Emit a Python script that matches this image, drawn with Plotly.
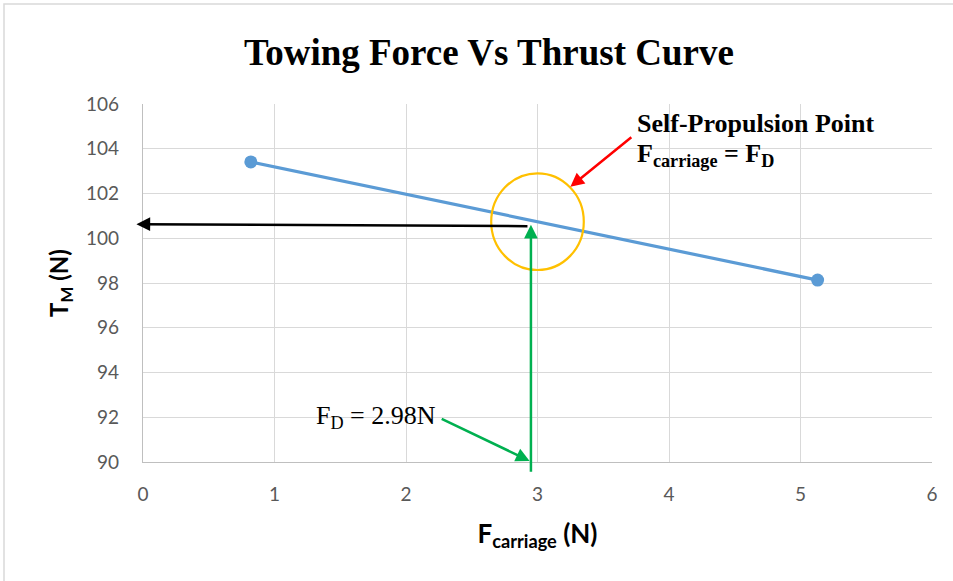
import plotly.graph_objects as go

# ---- data ----
f_carriage = [0.82, 5.13]
thrust_tm = [103.41, 98.13]

x_ticks = [0, 1, 2, 3, 4, 5, 6]
y_ticks = [90, 92, 94, 96, 98, 100, 102, 104, 106]

fd_value = 2.98           # self-propulsion point (label)
fd_arrow_x = 2.95         # drawn position of the vertical arrow
sp_thrust = 100.6         # thrust read at self-propulsion point

circle_center = [3.0, 100.74]
circle_radius = [0.352, 2.16]

serif = "Liberation Serif, Times New Roman, serif"
sans = "Lato, Carlito, Open Sans, sans-serif"

fig = go.Figure()
fig.add_trace(go.Scatter(
    x=f_carriage, y=thrust_tm, mode="lines+markers",
    line=dict(color="#5B9BD5", width=3.2),
    marker=dict(color="#5B9BD5", size=13),
    showlegend=False, cliponaxis=False, hoverinfo="skip",
))


def arrow(x0, y0, x1, y1, color):
    fig.add_annotation(x=x1, y=y1, ax=x0, ay=y0, xref="x", yref="y", axref="x", ayref="y",
                       text="", showarrow=True, arrowhead=2, arrowsize=1.1, arrowwidth=2.5,
                       arrowcolor=color)


fig.update_layout(
    width=953, height=581,
    margin=dict(l=143, r=21, t=104, b=119),
    paper_bgcolor="white", plot_bgcolor="white",
    title=dict(text="<b>Towing Force Vs Thrust Curve</b>",
               font=dict(family=serif, size=37, color="black"),
               x=0.513, xanchor="center", y=0.91, yanchor="middle", xref="container", yref="container"),
    xaxis=dict(range=[0, 6], tickvals=x_ticks, showgrid=True, gridcolor="#D9D9D9", gridwidth=1.3,
               zeroline=False, showline=True, linecolor="#BFBFBF", linewidth=1.3, mirror=False,
               ticks="", ticklabelstandoff=15,
               tickfont=dict(family=sans, size=19, color="#595959"),
               title=dict(text="<b>F<sub>carriage</sub> (N)</b>", font=dict(family=sans, size=26, color="black"),
                          standoff=20)),
    yaxis=dict(range=[90, 106], tickvals=y_ticks, showgrid=True, gridcolor="#D9D9D9", gridwidth=1.3,
               zeroline=False, showline=True, linecolor="#BFBFBF", linewidth=1.3,
               ticks="", ticklabelstandoff=19,
               tickfont=dict(family=sans, size=19, color="#595959"),
               title=dict(text="<b>T<sub>M</sub> (N)</b>", font=dict(family=sans, size=24, color="black"),
                          standoff=10)),
)

# outer chart border
fig.add_shape(type="rect", xref="paper", yref="paper", x0=-139/789, x1=1 + 40/789,
              y0=-140/358, y1=1 + 100/358, line=dict(color="#D9D9D9", width=1.5), fillcolor="rgba(0,0,0,0)",
              layer="below")

# yellow circle around self-propulsion point
fig.add_shape(type="circle", xref="x", yref="y",
              x0=circle_center[0] - circle_radius[0], x1=circle_center[0] + circle_radius[0],
              y0=circle_center[1] - circle_radius[1], y1=circle_center[1] + circle_radius[1],
              line=dict(color="#FFC000", width=2.2))

# arrows
arrow(2.935, sp_thrust - 0.06, -0.05, sp_thrust + 0.03, "black")
arrow(fd_arrow_x, 89.5, fd_arrow_x, sp_thrust, "#00B050")
arrow(2.26, 91.96, 2.94, 90.05, "#00B050")
arrow(3.725, 104.57, 3.25, 102.3, "#FF0000")

# text labels
fig.add_annotation(x=2.245, y=92.0, xref="x", yref="y", xanchor="right", yanchor="middle",
                   text=f"F<sub>D</sub> = {fd_value}N", showarrow=False,
                   font=dict(family=serif, size=26, color="black"))

fig.add_annotation(x=3.745, y=105.15, xref="x", yref="y", xanchor="left", yanchor="middle", align="left",
                   text="<b>Self-Propulsion Point</b>", showarrow=False,
                   font=dict(family=serif, size=26, color="black"))
fig.add_annotation(x=3.745, y=103.72, xref="x", yref="y", xanchor="left", yanchor="middle", align="left",
                   text="<b>F<sub>carriage</sub> = F<sub>D</sub></b>", showarrow=False,
                   font=dict(family=serif, size=26, color="black"))

fig.write_html("out.html", config={"displayModeBar": False},
               post_script="document.body.style.margin='0px';")
